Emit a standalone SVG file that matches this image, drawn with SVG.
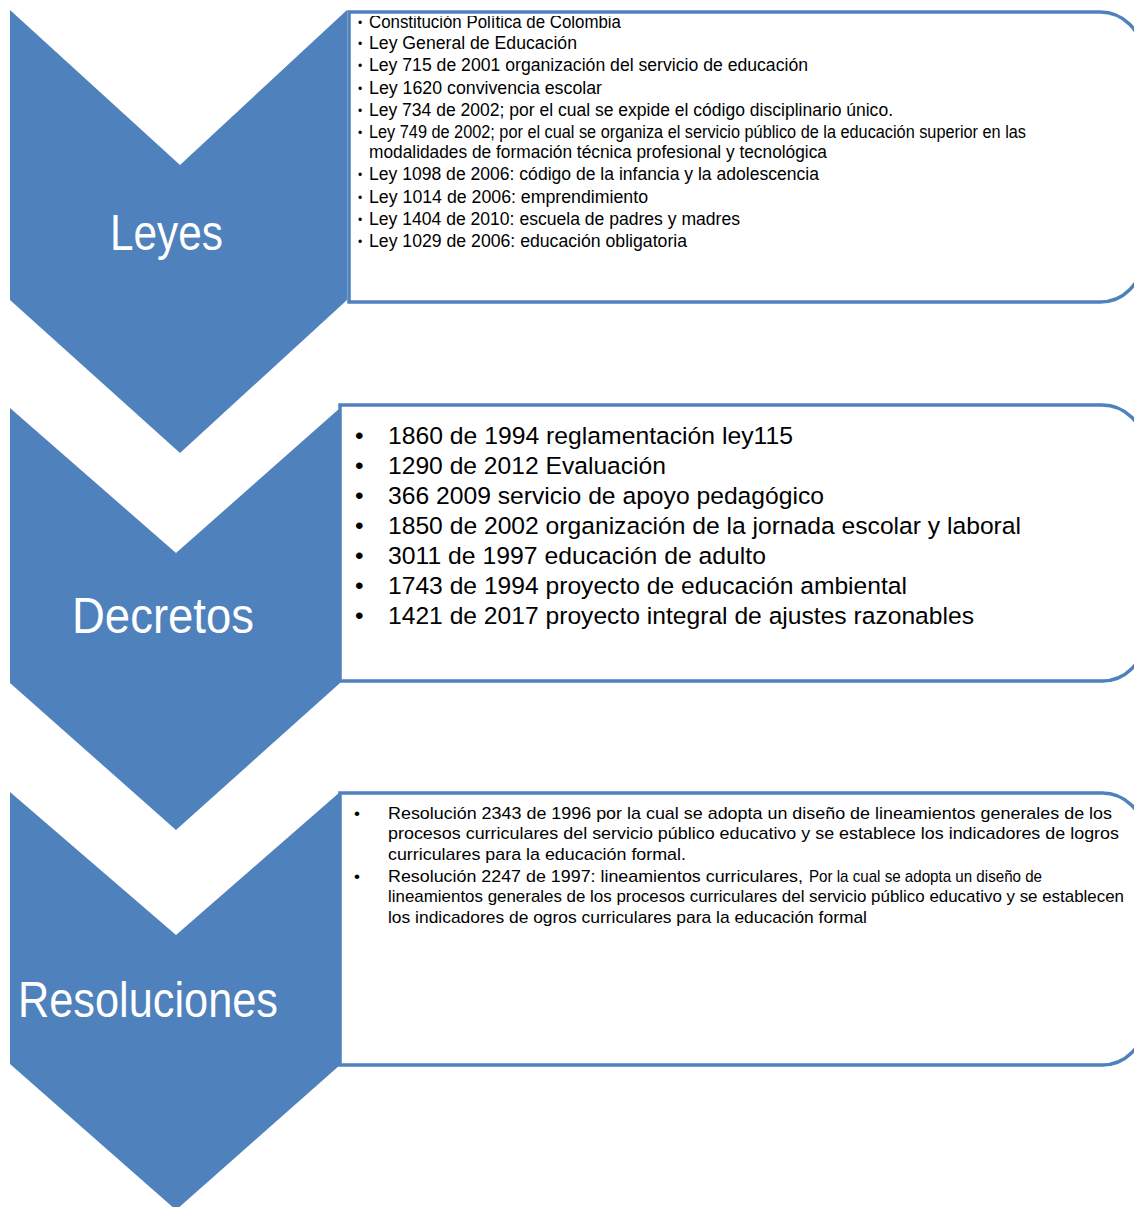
<svg xmlns="http://www.w3.org/2000/svg" width="1134" height="1207" viewBox="0 0 1134 1207">
<style>
.chev{fill:#4F81BD;}
.box{fill:#ffffff;stroke:#4F81BD;stroke-width:3.5;}
.lbl{font-family:"Liberation Sans",Arial,sans-serif;font-size:50px;fill:#ffffff;}
.t1{font-family:"Liberation Sans",Arial,sans-serif;font-size:17.5px;fill:#000000;}
.t2{font-family:"Liberation Sans",Arial,sans-serif;font-size:24.5px;fill:#000000;}
.t3{font-family:"Liberation Sans",Arial,sans-serif;font-size:17px;fill:#000000;}
.b1{font-family:"Liberation Sans",Arial,sans-serif;font-size:12px;fill:#000000;}
</style>
<defs>
<clipPath id="clip1"><rect x="340" y="16" width="800" height="290"/></clipPath>
</defs>
<rect width="1134" height="1207" fill="#ffffff"/>

<g id="leyes">
<polygon class="chev" points="10,10 180,165 347,10 347,300 180,453 10,300"/>
<text class="lbl" x="110" y="250" textLength="113" lengthAdjust="spacingAndGlyphs">Leyes</text>
</g>
<g id="leyes-list">
<path class="box" d="M349,12 H1100 A42,42 0 0 1 1142,54 V260 A42,42 0 0 1 1100,302 H349 Z"/>
<g clip-path="url(#clip1)">
<text class="b1" x="358" y="27">•</text>
<text class="t1" x="369" y="28" textLength="252" lengthAdjust="spacingAndGlyphs">Constitución Política de Colombia</text>
</g>
<text class="b1" x="358" y="48">•</text>
<text class="t1" x="369" y="49" textLength="208" lengthAdjust="spacingAndGlyphs">Ley General de Educación</text>
<text class="b1" x="358" y="70">•</text>
<text class="t1" x="369" y="71" textLength="439" lengthAdjust="spacingAndGlyphs">Ley 715 de 2001 organización del servicio de educación</text>
<text class="b1" x="358" y="93">•</text>
<text class="t1" x="369" y="94" textLength="233" lengthAdjust="spacingAndGlyphs">Ley 1620 convivencia escolar</text>
<text class="b1" x="358" y="115">•</text>
<text class="t1" x="369" y="116" textLength="524" lengthAdjust="spacingAndGlyphs">Ley 734 de 2002; por el cual se expide el código disciplinario único.</text>
<text class="b1" x="358" y="137">•</text>
<text class="t1" x="369" y="138" textLength="657" lengthAdjust="spacingAndGlyphs">Ley 749 de 2002; por el cual se organiza el servicio público de la educación superior en las</text>
<text class="t1" x="369" y="158" textLength="458" lengthAdjust="spacingAndGlyphs">modalidades de formación técnica profesional y tecnológica</text>
<text class="b1" x="358" y="179">•</text>
<text class="t1" x="369" y="180" textLength="450" lengthAdjust="spacingAndGlyphs">Ley 1098 de 2006: código de la infancia y la adolescencia</text>
<text class="b1" x="358" y="202">•</text>
<text class="t1" x="369" y="203" textLength="279" lengthAdjust="spacingAndGlyphs">Ley 1014 de 2006: emprendimiento</text>
<text class="b1" x="358" y="224">•</text>
<text class="t1" x="369" y="225" textLength="371" lengthAdjust="spacingAndGlyphs">Ley 1404 de 2010: escuela de padres y madres</text>
<text class="b1" x="358" y="246">•</text>
<text class="t1" x="369" y="247" textLength="318" lengthAdjust="spacingAndGlyphs">Ley 1029 de 2006: educación obligatoria</text>
</g>

<g id="decretos">
<polygon class="chev" points="10,408 176,553 340,408 340,683 176,830 10,683"/>
<text class="lbl" x="72" y="633" textLength="182" lengthAdjust="spacingAndGlyphs">Decretos</text>
</g>
<g id="decretos-list">
<path class="box" d="M340,405 H1102 A42,42 0 0 1 1144,447 V639 A42,42 0 0 1 1102,681 H340 Z"/>
<text class="t2" x="355" y="444">•</text>
<text class="t2" x="388" y="444" textLength="405" lengthAdjust="spacingAndGlyphs">1860 de 1994 reglamentación ley115</text>
<text class="t2" x="355" y="474">•</text>
<text class="t2" x="388" y="474" textLength="278" lengthAdjust="spacingAndGlyphs">1290 de 2012 Evaluación</text>
<text class="t2" x="355" y="504">•</text>
<text class="t2" x="388" y="504" textLength="436" lengthAdjust="spacingAndGlyphs">366 2009 servicio de apoyo pedagógico</text>
<text class="t2" x="355" y="534">•</text>
<text class="t2" x="388" y="534" textLength="633" lengthAdjust="spacingAndGlyphs">1850 de 2002 organización de la jornada escolar y laboral</text>
<text class="t2" x="355" y="564">•</text>
<text class="t2" x="388" y="564" textLength="378" lengthAdjust="spacingAndGlyphs">3011 de 1997 educación de adulto</text>
<text class="t2" x="355" y="594">•</text>
<text class="t2" x="388" y="594" textLength="519" lengthAdjust="spacingAndGlyphs">1743 de 1994 proyecto de educación ambiental</text>
<text class="t2" x="355" y="624">•</text>
<text class="t2" x="388" y="624" textLength="586" lengthAdjust="spacingAndGlyphs">1421 de 2017 proyecto integral de ajustes razonables</text>
</g>

<g id="resoluciones">
<polygon class="chev" points="10,792 176,935 340,792 340,1065 176,1210 10,1064"/>
<text class="lbl" x="18" y="1017" textLength="260" lengthAdjust="spacingAndGlyphs">Resoluciones</text>
</g>
<g id="resoluciones-list">
<path class="box" d="M340,793 H1102 A42,42 0 0 1 1144,835 V1023 A42,42 0 0 1 1102,1065 H340 Z"/>
<text class="t3" x="354" y="819">•</text>
<text class="t3" x="388" y="819" textLength="724" lengthAdjust="spacingAndGlyphs">Resolución 2343 de 1996 por la cual se adopta un diseño de lineamientos generales de los</text>
<text class="t3" x="388" y="839" textLength="731" lengthAdjust="spacingAndGlyphs">procesos curriculares del servicio público educativo y se establece los indicadores de logros</text>
<text class="t3" x="388" y="860" textLength="298" lengthAdjust="spacingAndGlyphs">curriculares para la educación formal.</text>
<text class="t3" x="354" y="882">•</text>
<text class="t3" x="388" y="882" textLength="415" lengthAdjust="spacingAndGlyphs">Resolución 2247 de 1997: lineamientos curriculares,</text>
<text class="t3" x="809" y="882" textLength="233" lengthAdjust="spacingAndGlyphs">Por la cual se adopta un diseño de</text>
<text class="t3" x="388" y="902" textLength="736" lengthAdjust="spacingAndGlyphs">lineamientos generales de los procesos curriculares del servicio público educativo y se establecen</text>
<text class="t3" x="388" y="923" textLength="479" lengthAdjust="spacingAndGlyphs">los indicadores de ogros curriculares para la educación formal</text>
</g>
</svg>
